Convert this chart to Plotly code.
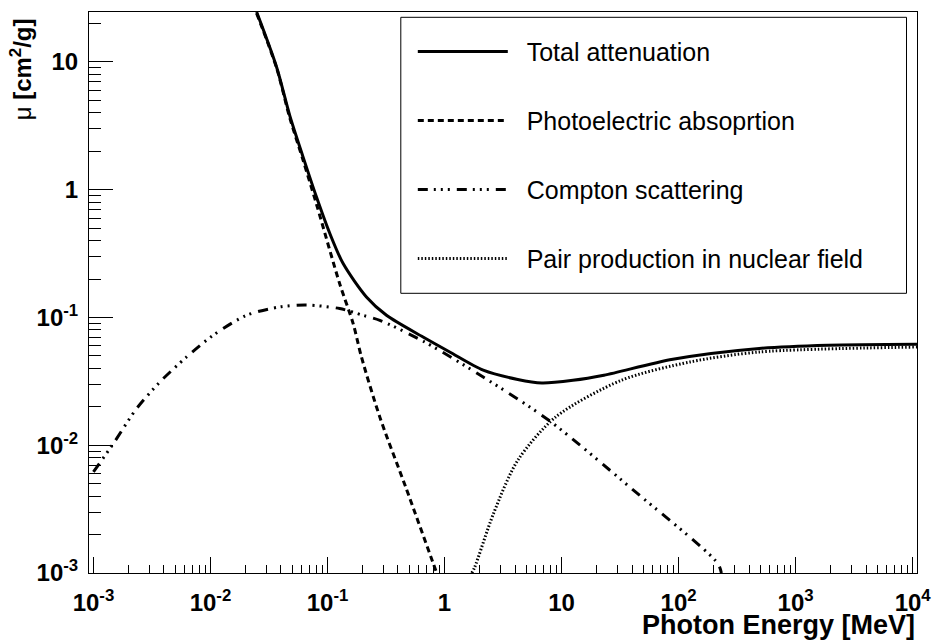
import plotly.graph_objects as go

# ---- data (energy in MeV, mu in cm^2/g) ----
total_E = [0.0248, 0.0367, 0.0476, 0.0619, 0.0805, 0.1047, 0.136, 0.215, 0.319,
           0.655, 1.107, 2.14, 4.22, 6.79, 12.5, 23.0, 89.3, 488, 1892, 10900]
total_mu = [24.6, 9.14, 3.8, 1.80, 0.877, 0.454, 0.264, 0.1447, 0.104,
            0.0703, 0.0537, 0.0387, 0.0327, 0.0307, 0.0322, 0.0353, 0.0471, 0.0572, 0.0606, 0.0617]

photo_E = [0.0248, 0.0367, 0.0476, 0.0619, 0.0805, 0.127, 0.1656, 0.195, 0.280, 0.466, 0.80, 0.857]
photo_mu = [24.0, 9.0, 3.65, 1.70, 0.77, 0.184, 0.0895, 0.0491, 0.0166, 0.0047, 0.00119, 0.001]

compton_E = [0.001, 0.00148, 0.00234, 0.0037, 0.00625, 0.01055, 0.0203, 0.0392, 0.0662,
             0.127, 0.201, 0.280, 0.676, 2.14, 7.78, 39.6, 216, 232]
compton_mu = [0.0062, 0.0103, 0.0194, 0.0313, 0.0491, 0.0726, 0.104, 0.121, 0.125,
              0.1175, 0.104, 0.095, 0.0643, 0.0342, 0.01567, 0.00458, 0.00119, 0.001]

pair_E = [1.71, 1.81, 2.62, 4.22, 8.91, 32.3, 125.6, 488, 10900]
pair_mu = [0.001, 0.00111, 0.00292, 0.00762, 0.01664, 0.0322, 0.0449, 0.0537, 0.0587]

series_names = ["Total attenuation", "Photoelectric absoprtion",
                "Compton scattering", "Pair production in nuclear field"]

x_major = [1e-3, 1e-2, 1e-1, 1, 10, 100, 1000, 10000]
x_major_text = ["10<sup>-3</sup>", "10<sup>-2</sup>", "10<sup>-1</sup>", "1", "10",
                "10<sup>2</sup>", "10<sup>3</sup>", "10<sup>4</sup>"]
y_major = [1e-3, 1e-2, 1e-1, 1, 10]
y_major_text = ["10<sup>-3</sup>", "10<sup>-2</sup>", "10<sup>-1</sup>", "1", "10"]

x_minor = [m * 10 ** d for d in range(-3, 4) for m in range(2, 10)]
y_minor = [m * 10 ** d for d in range(-3, 1) for m in range(2, 10)] + [20]

FONT = "Liberation Sans"
NB = "\u00a0\u00a0"

fig = go.Figure()
styles = [
    dict(width=3, dash="solid"),
    dict(width=3, dash="6px,4px"),
    dict(width=3, dash="10px,6px,2px,5px,2px,5px,2px,7px"),
    dict(width=3, dash="1.5px,2px"),
]
datasets = [(total_E, total_mu), (photo_E, photo_mu), (compton_E, compton_mu), (pair_E, pair_mu)]
for i, ((xs, ys), name, st) in enumerate(zip(datasets, series_names, styles)):
    fig.add_trace(go.Scatter(
        x=xs, y=ys, mode="lines", name=NB + name, legendgroup=f"g{i}",
        line=dict(color="black", width=st["width"], dash=st["dash"], shape="spline", smoothing=0.8),
        hoverinfo="skip"))

W, H = 935, 641
L, R, T, B = 89, 17.5, 11.7, 68.3
pw, ph = W - L - R, H - T - B


def px_x(p):
    return (p - L) / pw


def px_y(p):
    return (H - B - p) / ph


fig.update_layout(
    width=W, height=H,
    margin=dict(l=L, r=R, t=T, b=B, pad=0, autoexpand=False),
    paper_bgcolor="white", plot_bgcolor="white",
    font=dict(family=FONT, color="black"),
    showlegend=True,
    legend=dict(
        x=px_x(413), y=px_y(28.5), xanchor="left", yanchor="top",
        borderwidth=0, bgcolor="rgba(0,0,0,0)",
        font=dict(family=FONT, size=25, color="black"),
        traceorder="grouped", tracegroupgap=33.5, itemwidth=90,
    ),
    xaxis=dict(
        type="log", range=[-3.038, 4.037], showgrid=False, zeroline=False, automargin=False,
        showline=True, linecolor="black", linewidth=1, mirror=True,
        ticks="inside", ticklen=16, tickwidth=1, tickcolor="black",
        tickvals=x_major, ticktext=x_major_text, ticklabelstandoff=8,
        tickfont=dict(family=FONT, size=24, color="black", weight="bold"),
        minor=dict(tickvals=x_minor, ticks="inside", ticklen=8, tickwidth=1, tickcolor="black", showgrid=False),
    ),
    yaxis=dict(
        type="log", range=[-3, 1.391], showgrid=False, zeroline=False, automargin=False,
        showline=True, linecolor="black", linewidth=1, mirror=True,
        ticks="inside", ticklen=24, tickwidth=1, tickcolor="black",
        tickvals=y_major, ticktext=y_major_text, ticklabelstandoff=5,
        tickfont=dict(family=FONT, size=24, color="black", weight="bold"),
        minor=dict(tickvals=y_minor, ticks="inside", ticklen=12, tickwidth=1, tickcolor="black", showgrid=False),
    ),
    shapes=[dict(type="rect", xref="paper", yref="paper",
                 x0=px_x(401), x1=px_x(907), y0=px_y(293), y1=px_y(17),
                 line=dict(color="black", width=1), fillcolor="white", layer="above")],
)

fig.add_annotation(
    text="<b>Photon Energy [MeV]</b>", xref="paper", yref="paper",
    x=1.0, y=px_y(625), xanchor="right", yanchor="middle",
    showarrow=False, font=dict(family=FONT, size=27, color="black"))
fig.add_annotation(
    text="μ <b>[cm<sup>2</sup>/g]</b>", xref="paper", yref="paper",
    x=px_x(21), y=px_y(16), xanchor="center", yanchor="top",
    textangle=-90, showarrow=False, font=dict(family=FONT, size=24, color="black"))

fig.write_html("out.html")
